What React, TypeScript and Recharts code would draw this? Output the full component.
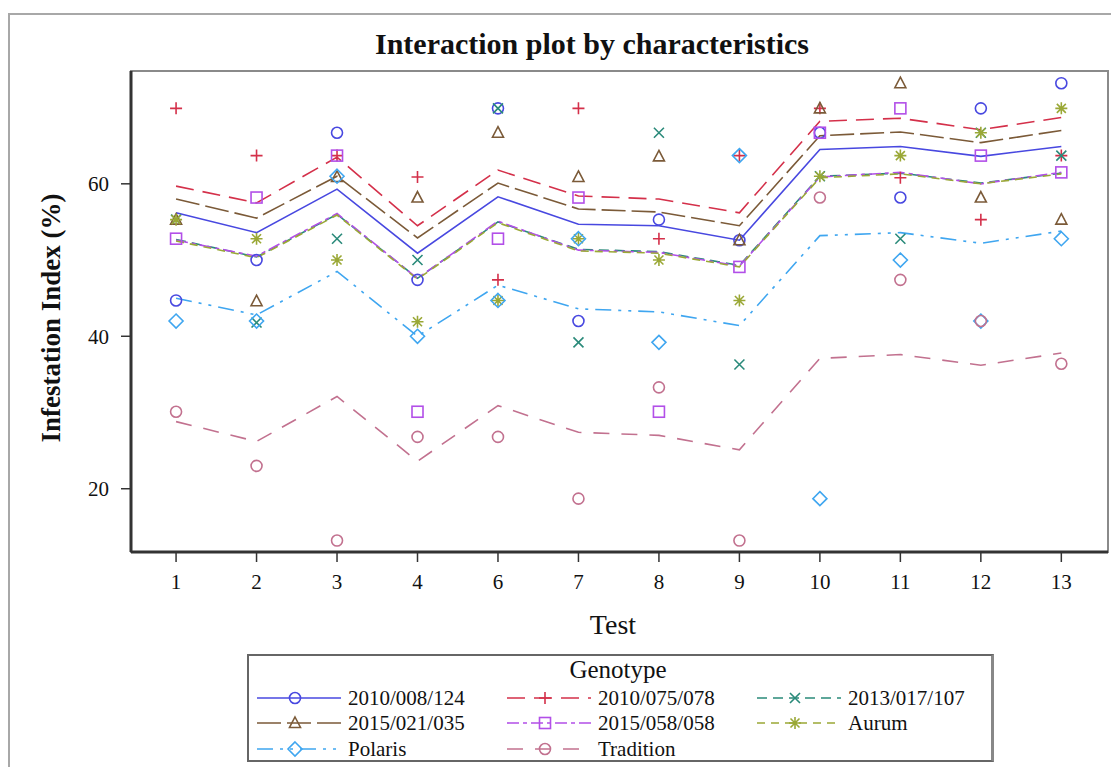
import React from 'react';
import { ComposedChart, Line, Scatter, XAxis, YAxis, ReferenceArea } from 'recharts';

const TESTS = ['1', '2', '3', '4', '6', '7', '8', '9', '10', '11', '12', '13'];

const NAMES = ['2010/008/124', '2010/075/078', '2013/017/107', '2015/021/035', '2015/058/058', 'Aurum', 'Polaris', 'Tradition'];

// fitted values (lines)
const fit124 = [56.2, 53.6, 59.3, 50.9, 58.3, 54.7, 54.5, 52.6, 64.5, 64.9, 63.6, 64.9];
const fit078 = [59.7, 57.5, 63.5, 54.5, 61.8, 58.4, 58.0, 56.2, 68.2, 68.6, 67.1, 68.7];
const fit107 = [52.7, 50.4, 56.0, 47.6, 55.0, 51.4, 51.1, 49.3, 61.0, 61.4, 60.1, 61.4];
const fit035 = [58.0, 55.5, 61.0, 52.9, 60.1, 56.7, 56.3, 54.5, 66.3, 66.8, 65.4, 67.0];
const fit058 = [52.6, 50.5, 56.1, 47.6, 55.1, 51.3, 51.0, 49.2, 60.9, 61.5, 60.0, 61.5];
const fitAurum = [52.5, 50.3, 55.9, 47.5, 54.9, 51.2, 50.9, 49.1, 60.8, 61.3, 60.0, 61.3];
const fitPolaris = [45.0, 42.8, 48.5, 40.0, 46.7, 43.6, 43.2, 41.4, 53.2, 53.6, 52.2, 53.8];
const fitTradition = [28.8, 26.2, 32.1, 23.6, 30.9, 27.4, 27.0, 25.1, 37.1, 37.6, 36.2, 37.8];

// observed values (markers)
const obs124 = [44.7, 50.0, 66.7, 47.4, 69.9, 42.0, 55.3, 52.6, 66.7, 58.2, 69.9, 73.2];
const obs078 = [69.9, 63.7, 63.7, 60.9, 47.4, 69.9, 52.8, 63.7, 69.9, 60.8, 55.3, 63.7];
const obs107 = [55.3, 41.8, 52.8, 50.0, 69.9, 39.2, 66.7, 36.3, 61.0, 52.8, 66.7, 63.7];
const obs035 = [55.3, 44.6, 60.9, 58.2, 66.7, 60.9, 63.6, 52.6, 69.9, 73.2, 58.2, 55.3];
const obs058 = [52.8, 58.2, 63.7, 30.1, 52.8, 58.2, 30.1, 49.1, 66.7, 69.9, 63.7, 61.5];
const obsAurum = [55.3, 52.8, 50.0, 41.9, 44.7, 52.8, 50.0, 44.7, 61.0, 63.7, 66.7, 69.9];
const obsPolaris = [42.0, 42.0, 61.0, 40.0, 44.7, 52.8, 39.2, 63.7, 18.7, 50.0, 42.0, 52.8];
const obsTradition = [30.1, 23.0, 13.2, 26.8, 26.8, 18.7, 33.3, 13.2, 58.2, 47.4, 42.0, 36.4];

const FITS = [fit124, fit078, fit107, fit035, fit058, fitAurum, fitPolaris, fitTradition];
const OBS = [obs124, obs078, obs107, obs035, obs058, obsAurum, obsPolaris, obsTradition];

const COLORS = ['#4848e0', '#d4304a', '#2a8a7a', '#7b5a38', '#b24fe8', '#9aa836', '#3fa6f0', '#c2718f'];
const DASHES = ['', '18 9', '10 6', '24 6', '12 4 4 4', '8 6', '16 7 3 7 3 7', '16 12'];
const MARKERS = ['circle', 'plus', 'x', 'triangle', 'square', 'asterisk', 'diamond', 'circle'];

const rows = TESTS.map((t, i) => {
  const r: any = { x: i, test: t };
  FITS.forEach((f, k) => { r['f' + k] = f[i]; });
  OBS.forEach((o, k) => { r['o' + k] = o[i]; });
  return r;
});

const SERIF = '"Liberation Serif", "Times New Roman", serif';

function Marker({ type, cx, cy, color }: { type: string; cx: number; cy: number; color: string }) {
  const p = { fill: 'none', stroke: color, strokeWidth: 1.6 };
  switch (type) {
    case 'circle':
      return <circle cx={cx} cy={cy} r={5.5} {...p} />;
    case 'plus':
      return <path d={`M${cx - 6},${cy}H${cx + 6}M${cx},${cy - 6}V${cy + 6}`} {...p} />;
    case 'x':
      return <path d={`M${cx - 5},${cy - 5}L${cx + 5},${cy + 5}M${cx - 5},${cy + 5}L${cx + 5},${cy - 5}`} {...p} />;
    case 'triangle':
      return <path d={`M${cx},${cy - 6}L${cx + 5.5},${cy + 4.5}L${cx - 5.5},${cy + 4.5}Z`} {...p} />;
    case 'square':
      return <rect x={cx - 5.5} y={cy - 5.5} width={11} height={11} {...p} />;
    case 'asterisk':
      return <path d={`M${cx - 6},${cy}H${cx + 6}M${cx},${cy - 6}V${cy + 6}M${cx - 4.5},${cy - 4.5}L${cx + 4.5},${cy + 4.5}M${cx - 4.5},${cy + 4.5}L${cx + 4.5},${cy - 4.5}`} {...p} />;
    case 'diamond':
      return <path d={`M${cx},${cy - 7}L${cx + 7},${cy}L${cx},${cy + 7}L${cx - 7},${cy}Z`} {...p} />;
    default:
      return null;
  }
}

const legendCols = [257, 507, 757];
const legendRows = [698, 723, 749];

function LegendEntry({ k }: { k: number }) {
  const col = k % 3;
  const row = Math.floor(k / 3);
  const left = legendCols[col];
  const top = legendRows[row];
  return (
    <div style={{ position: 'absolute', left, top: top - 12, height: 24, display: 'flex', alignItems: 'center' }}>
      <svg width={84} height={24} style={{ display: 'block' }}>
        <line x1={0} y1={12} x2={84} y2={12} stroke={COLORS[k]} strokeWidth={1.6} strokeDasharray={DASHES[k] || undefined} />
        <Marker type={MARKERS[k]} cx={38} cy={12} color={COLORS[k]} />
      </svg>
      <span style={{ marginLeft: col === 0 ? 7 : 7, fontFamily: SERIF, fontSize: 21, color: '#111', whiteSpace: 'nowrap' }}>
        {NAMES[k]}
      </span>
    </div>
  );
}

export default function App() {
  return (
    <div style={{ position: 'absolute', left: 0, top: 0, width: 1111, height: 767, overflow: 'hidden', background: '#fff' }}>
      <div style={{ position: 'absolute', left: 8, top: 13, width: 1140, height: 800, border: '2px solid #a8a8a8' }} />

      <div style={{ position: 'absolute', left: 592, top: 29, transform: 'translateX(-50%)', fontFamily: SERIF, fontWeight: 'bold', fontSize: 30, lineHeight: '30px', whiteSpace: 'nowrap', color: '#111' }}>
        Interaction plot by characteristics
      </div>

      <div style={{ position: 'absolute', left: 0, top: 0 }}>
        <ComposedChart width={1111} height={767} data={rows} margin={{ top: 71, right: 3, bottom: 175, left: 71 }}>
          <ReferenceArea x1={-0.56} x2={11.58} y1={11.7} y2={74.8} ifOverflow="visible" fill="none" stroke="#8a8a8a" strokeWidth={2} />
          <XAxis
            dataKey="x"
            type="number"
            domain={[-0.56, 11.58]}
            ticks={TESTS.map((_, i) => i)}
            tickFormatter={(v: number) => TESTS[v]}
            allowDataOverflow
            height={40}
            tickSize={10}
            tickMargin={12}
            axisLine={{ stroke: '#333', strokeWidth: 3 }}
            tickLine={{ stroke: '#333', strokeWidth: 1.5 }}
            tick={{ fontFamily: SERIF, fontSize: 21, fill: '#111' }}
          />
          <YAxis
            type="number"
            domain={[11.7, 74.8]}
            ticks={[20, 40, 60]}
            allowDataOverflow
            width={60}
            tickSize={10}
            tickMargin={12}
            axisLine={{ stroke: '#333', strokeWidth: 3 }}
            tickLine={{ stroke: '#333', strokeWidth: 1.5 }}
            tick={{ fontFamily: SERIF, fontSize: 21, fill: '#111' }}
          />
          {FITS.map((_, k) => (
            <Line
              key={'f' + k}
              dataKey={'f' + k}
              type="linear"
              stroke={COLORS[k]}
              strokeWidth={1.6}
              strokeDasharray={DASHES[k] || undefined}
              dot={false}
              activeDot={false}
              isAnimationActive={false}
            />
          ))}
          {OBS.map((_, k) => (
            <Scatter
              key={'o' + k}
              dataKey={'o' + k}
              data={rows}
              isAnimationActive={false}
              shape={(props: any) => <Marker type={MARKERS[k]} cx={props.cx} cy={props.cy} color={COLORS[k]} />}
            />
          ))}
        </ComposedChart>
      </div>

      <div style={{ position: 'absolute', left: 51, top: 318, transform: 'translate(-50%, -50%) rotate(-90deg)', fontFamily: SERIF, fontWeight: 'bold', fontSize: 27, whiteSpace: 'nowrap', color: '#111' }}>
        Infestation Index (%)
      </div>

      <div style={{ position: 'absolute', left: 613, top: 611, transform: 'translateX(-50%)', fontFamily: SERIF, fontSize: 28, lineHeight: '28px', whiteSpace: 'nowrap', color: '#111' }}>
        Test
      </div>

      <div style={{ position: 'absolute', left: 247, top: 654, width: 742, height: 104, border: '2px solid #666', borderRightWidth: 3, borderRightColor: '#888' }} />
      <div style={{ position: 'absolute', left: 618, top: 656, transform: 'translateX(-50%)', fontFamily: SERIF, fontSize: 25, lineHeight: '28px', whiteSpace: 'nowrap', color: '#111' }}>
        Genotype
      </div>
      {NAMES.map((_, k) => <LegendEntry key={k} k={k} />)}
    </div>
  );
}
